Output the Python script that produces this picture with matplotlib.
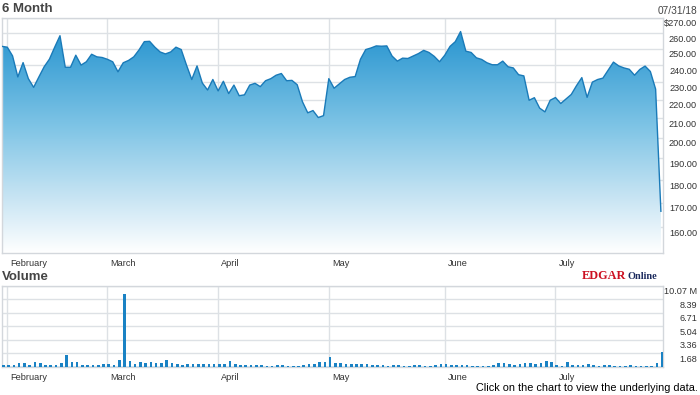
import numpy as np
import pandas as pd
import matplotlib
matplotlib.use('Agg')
import matplotlib.pyplot as plt
import matplotlib.transforms as mtransforms
from matplotlib.patches import Polygon
from matplotlib.colors import LinearSegmentedColormap

plt.rcParams['font.family'] = ['Liberation Sans', 'DejaVu Sans']

# trading days, 01/31/18 - 07/31/18
holidays = ['2018-02-19', '2018-03-30', '2018-05-28', '2018-07-04']
dates = pd.bdate_range('2018-01-31', '2018-07-31')
dates = dates[~dates.isin(pd.to_datetime(holidays))]

# closing prices ($)
prices = [251.5, 251.0, 245.6, 233.0, 241.5, 232.0, 227.0, 233.0, 239.0, 243.6,
          251.0, 258.3, 238.7, 238.7, 246.0, 240.0, 242.0, 246.6, 245.0, 244.6,
          243.5, 242.0, 236.0, 241.4, 242.8, 245.0, 249.3, 254.5, 254.7, 251.0,
          248.0, 246.8, 248.0, 251.0, 249.5, 240.0, 231.5, 239.5, 229.5, 225.5,
          231.5, 225.0, 230.5, 223.5, 228.3, 222.3, 222.8, 228.3, 229.3, 227.4,
          230.8, 232.0, 234.0, 235.0, 230.8, 231.0, 228.5, 219.0, 213.0, 214.2,
          210.5, 211.5, 232.0, 226.5, 229.0, 231.5, 232.8, 233.2, 243.5, 249.5,
          250.5, 251.8, 251.6, 251.8, 245.5, 242.4, 244.2, 244.0, 245.5, 247.0,
          249.0, 247.7, 245.3, 242.0, 246.0, 251.5, 254.5, 261.0, 248.5, 247.7,
          244.4, 243.4, 241.4, 240.2, 240.2, 242.4, 239.0, 238.3, 234.3, 233.6,
          219.8, 221.2, 215.5, 213.5, 219.8, 221.3, 218.0, 220.5, 223.0, 228.0,
          232.6, 221.4, 230.0, 231.5, 232.3, 237.0, 241.8, 239.5, 238.3, 237.5,
          234.0, 237.4, 239.4, 236.2, 226.0, 166.5]

# volume (millions of shares)
volumes = [0.21, 0.21, 0.21, 0.50, 0.50, 0.21, 0.62, 0.50, 0.21, 0.21,
           0.21, 0.42, 1.46, 0.62, 0.62, 0.21, 0.21, 0.21, 0.21, 0.29,
           0.29, 0.21, 0.83, 9.08, 0.71, 0.33, 0.58, 0.50, 0.58, 0.50,
           0.50, 0.83, 0.50, 0.33, 0.21, 0.33, 0.33, 0.33, 0.33, 0.33,
           0.33, 0.33, 0.33, 0.71, 0.33, 0.21, 0.21, 0.21, 0.21, 0.21,
           0.13, 0.13, 0.21, 0.21, 0.13, 0.13, 0.13, 0.21, 0.33, 0.33,
           0.62, 0.62, 1.25, 0.50, 0.50, 0.33, 0.31, 0.29, 0.29, 0.29,
           0.21, 0.21, 0.21, 0.13, 0.21, 0.21, 0.13, 0.13, 0.21, 0.21,
           0.13, 0.13, 0.21, 0.29, 0.33, 0.21, 0.21, 0.21, 0.21, 0.13,
           0.13, 0.13, 0.13, 0.21, 0.42, 0.42, 0.29, 0.21, 0.29, 0.42,
           0.42, 0.33, 0.50, 0.71, 0.62, 0.21, 0.13, 0.62, 0.21, 0.21,
           0.21, 0.29, 0.21, 0.13, 0.21, 0.21, 0.13, 0.13, 0.13, 0.21,
           0.13, 0.13, 0.13, 0.13, 0.42, 1.87]

price_ticks = [270, 260, 250, 240, 230, 220, 210, 200, 190, 180, 170, 160]
vol_ticks = [10.07, 8.39, 6.71, 5.04, 3.36, 1.68]
month_names = ['February', 'March', 'April', 'May', 'June', 'July']

x = np.arange(len(prices))
month_idx = np.flatnonzero(np.diff(dates.month) != 0) + 1

W, H = 700, 395
grid_c = '#dde1e5'
text_c = '#333333'

def box(x0, y0, x1, y1):
    return [x0 / W, 1 - y1 / H, (x1 - x0) / W, (y1 - y0) / H]

fig = plt.figure(figsize=(W / 100, H / 100), dpi=100)
ax = fig.add_axes(box(2, 18, 663, 253))
axv = fig.add_axes(box(2, 286, 663, 366.7))

# ---- price panel ----
cmap = LinearSegmentedColormap.from_list(
    'fade', [(0, '#ffffff'), (0.22, '#cbe6f4'), (0.55, '#7cc3e5'), (1, '#1c8ecd')])
grad = np.linspace(0, 1, 256).reshape(-1, 1)
img = ax.imshow(grad, extent=[0, 1, 0, 1], transform=ax.transAxes, origin='lower',
                aspect='auto', cmap=cmap, zorder=1, interpolation='bilinear')
ax.set_yscale('log')
verts = [(0, 100)] + list(zip(x, prices)) + [(x[-1], 100)]
area = Polygon(verts, closed=True, facecolor='none', edgecolor='none',
               transform=ax.transData)
ax.add_patch(area)
img.set_clip_path(area)
ax.plot(x, prices, color='#1a7ab8', lw=1.0, zorder=3)

ax.set_xlim(0, 125.4)
ax.set_ylim(150, 270)
for v in price_ticks:
    ax.axhline(v, color=grid_c, lw=1, zorder=0)
for m in month_idx:
    ax.axvline(m, color=grid_c, lw=1, zorder=0)

# ---- volume panel ----
axv.bar(x, volumes, width=0.5, align='edge', color='#1a82c4', zorder=3)
axv.axhline(0, color='#c6e3f3', lw=2, zorder=2)
axv.set_xlim(0, 125.4)
axv.set_ylim(0, 10.07)
for v in vol_ticks:
    axv.axhline(v, color=grid_c, lw=1, zorder=0)
for m in month_idx:
    axv.axvline(m, color=grid_c, lw=1, zorder=0)

for a in (ax, axv):
    a.set_xticks([])
    a.set_yticks([])
    a.set_yticks([], minor=True)
    for s in a.spines.values():
        s.set_color('#d3d7dc')
        s.set_linewidth(1)

# y labels on the right, just under each grid line
for a, ticks in ((ax, price_ticks), (axv, vol_ticks)):
    tr = mtransforms.offset_copy(
        mtransforms.blended_transform_factory(fig.transFigure, a.transData),
        fig=fig, y=-6, units='dots')
    for k, v in enumerate(ticks):
        lab = '{:.2f}'.format(v)
        if a is ax and k == 0:
            lab = '$' + lab
        if a is axv and k == 0:
            lab = lab + ' M'
        fig.text(697 / W, v, lab, transform=tr, ha='right', va='center',
                 fontsize=6.6, color=text_c)

# month labels under each panel
for a, ypix in ((ax, 263.5), (axv, 377)):
    tr = mtransforms.offset_copy(
        mtransforms.blended_transform_factory(a.transData, fig.transFigure),
        fig=fig, x=3, units='dots')
    for m, name in zip(month_idx, month_names):
        fig.text(m, 1 - ypix / H, name, transform=tr, ha='left', va='center',
                 fontsize=6.6, color=text_c)

fig.text(2 / W, 1 - 8.5 / H, '6 Month', fontsize=9.5, fontweight='bold',
         color='#444444', ha='left', va='center')
fig.text(697 / W, 1 - 10.5 / H, '07/31/18', fontsize=7.3, color='#444444',
         ha='right', va='center')
fig.text(2 / W, 1 - 277.5 / H, 'Volume', fontsize=9.5, fontweight='bold',
         color='#444444', ha='left', va='center')
fig.text(582 / W, 1 - 276 / H, 'EDGAR', family='Liberation Serif', fontweight='bold',
         fontsize=8.8, color='#cc1122', ha='left', va='center')
fig.text(627.5 / W, 1 - 276.5 / H, 'Online', family='Liberation Serif', fontweight='bold',
         fontsize=7.4, color='#1c2b5e', ha='left', va='center')
fig.text(698 / W, 1 - 388 / H, 'Click on the chart to view the underlying data.',
         fontsize=7.8, color='black', ha='right', va='center')

fig.savefig('out.png', dpi=100)
